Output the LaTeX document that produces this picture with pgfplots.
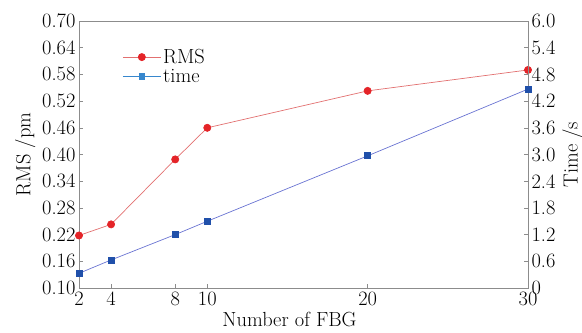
\documentclass[border=0pt]{standalone}
\usepackage{pgfplots}
\pgfplotsset{compat=1.18}

\definecolor{rmsline}{RGB}{226,112,112}
\definecolor{rmsmark}{RGB}{228,36,40}
\definecolor{timeline}{RGB}{105,115,210}
\definecolor{timemark}{RGB}{32,80,170}
\definecolor{legtime}{RGB}{55,135,205}
\definecolor{framegray}{RGB}{140,140,140}

\pgfplotsset{
  twin/.style={
    scale only axis, width=449bp, height=267bp,
    xmin=2, xmax=30,
    axis line style={framegray, line width=0.8pt},
    tick style={framegray, line width=0.6pt},
    tick align=inside, major tick length=4bp,
    font=\fontsize{20.5}{22}\selectfont,
    /pgf/number format/assume math mode=true,
  }
}

\pgfplotstableread{
n   rms    time
2   0.218  0.33
4   0.243  0.63
8   0.389  1.20
10  0.460  1.50
20  0.543  2.97
30  0.590  4.47
}\fbgdata

\begin{document}
\begin{tikzpicture}
\begin{axis}[twin,
  ymin=0.10, ymax=0.70,
  xtick={2,4,8,10,20,30},
  xtick pos=bottom, ytick pos=left,
  ytick={0.10,0.16,0.22,0.28,0.34,0.40,0.46,0.52,0.58,0.64,0.70},
  yticklabel style={/pgf/number format/.cd, fixed, fixed zerofill, precision=2},
  xlabel={Number of FBG}, ylabel={RMS /pm},
  xlabel style={xshift=-14bp},
  legend style={draw=none, fill=none, at={(0.092,0.91)}, anchor=north west,
    row sep=0pt, inner sep=2pt, font=\fontsize{20.5}{22}\selectfont},
  legend cell align=left,
  legend image code/.code={
    \draw[mark repeat=2, mark phase=2, #1]
      plot coordinates {(0bp,0bp) (19bp,0bp) (38bp,0bp)};
  },
]
\addplot[rmsline, line width=0.7pt, mark=*, mark size=3.6pt,
  mark options={solid, fill=rmsmark, draw=rmsmark}] table[x=n, y=rms] {\fbgdata};
\addlegendentry{RMS}
\addlegendimage{legtime, line width=0.7pt, mark=square*, mark size=3pt,
  mark options={solid, fill=legtime, draw=legtime}}
\addlegendentry{time}
\end{axis}
\begin{axis}[twin,
  hide x axis, axis y line*=right,
  ymin=0, ymax=6,
  ytick={0,0.6,1.2,1.8,2.4,3.0,3.6,4.2,4.8,5.4,6.0},
  yticklabels={0,0.6,1.2,1.8,2.4,3.0,3.6,4.2,4.8,5.4,6.0},
  ylabel={Time /s},
]
\addplot[timeline, line width=0.7pt, mark=square*, mark size=3pt,
  mark options={solid, fill=timemark, draw=timemark}] table[x=n, y=time] {\fbgdata};
\end{axis}
\pgfresetboundingbox
\path (-79bp,-45bp) rectangle (503bp,288bp);
\end{tikzpicture}
\end{document}
